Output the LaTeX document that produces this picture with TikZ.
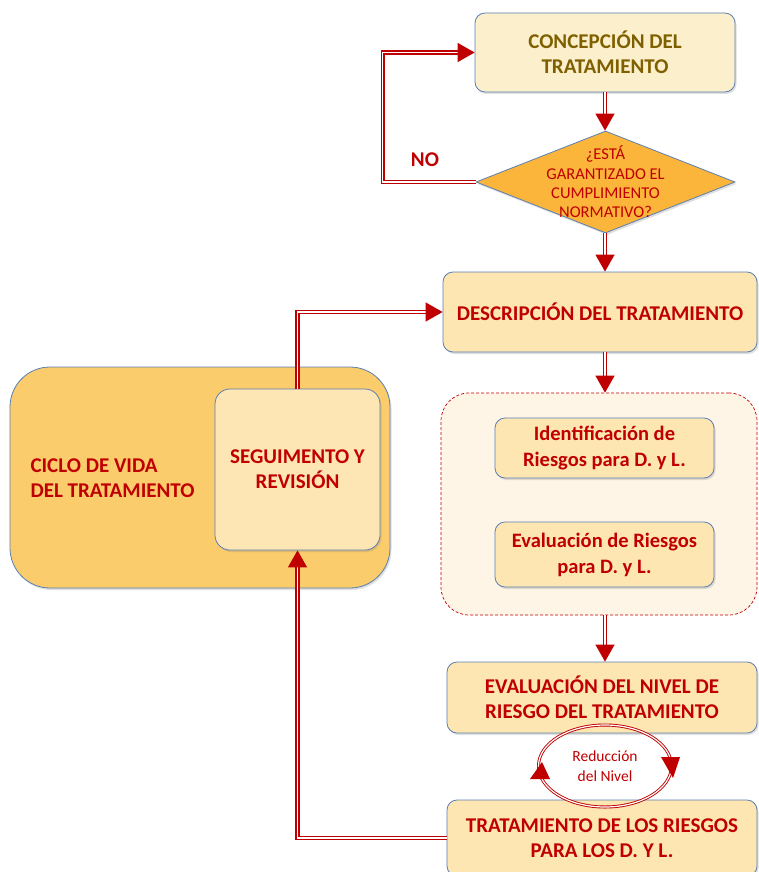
\documentclass[tikz,border=0pt]{standalone}
\usepackage{fontspec}
\setmainfont{Carlito}
\usepackage{tikz}
\usetikzlibrary{arrows.meta}
\usetikzlibrary{shapes.geometric}
\usetikzlibrary{shadows}

\definecolor{rojo}{HTML}{C00000}
\definecolor{oliva}{HTML}{7F6000}
\definecolor{borde}{HTML}{5B7FB2}
\definecolor{crema}{HTML}{FCEFCB}
\definecolor{beige}{HTML}{FDE6B2}
\definecolor{naranja}{HTML}{FBB53B}
\definecolor{ciclo}{HTML}{FBCC6C}
\definecolor{claro}{HTML}{FEE6B4}
\definecolor{zona}{HTML}{FEF5E6}

\begin{document}
\begin{tikzpicture}[x=1pt,y=1pt]
  \tikzset{caja/.style = {draw=borde, line width=0.8pt, rounded corners=10pt, fill=beige, text=rojo, align=center,
      font=\bfseries\fontsize{21}{25}\selectfont,
      drop shadow={opacity=0.25, shadow xshift=1.5pt, shadow yshift=-2pt}}}
  \tikzset{flecha/.style = {draw=rojo, line width=1.3pt, double=white, double distance=1.5pt,
      -{Triangle[length=17pt,width=19pt]}}}
  \tikzset{bucle/.style = {draw=rojo, line width=0.9pt, double=white, double distance=1.2pt}}

  \useasboundingbox (0,0) rectangle (758,-872);

  \node[caja, fill=ciclo, rounded corners=40pt, minimum width=380pt, minimum height=221pt] (vida) at (200,-477.5) {};
  \node[text=rojo, font=\bfseries\fontsize{21}{25}\selectfont, align=left, anchor=west] (vidaTxt) at (27,-478) {CICLO DE VIDA\\DEL TRATAMIENTO};
  \node[caja, fill=claro, rounded corners=15pt, minimum width=165pt, minimum height=161pt] (seg) at (297.5,-469.5) {SEGUIMENTO Y\\REVISIÓN};

  \node[caja, fill=crema, text=oliva, minimum width=260pt, minimum height=79pt] (conc) at (605,-52.5) {CONCEPCIÓN DEL\\TRATAMIENTO};
  \node[diamond, draw=borde, line width=0.8pt, fill=naranja, minimum width=259pt, minimum height=102pt, inner sep=0pt,
      drop shadow={opacity=0.25, shadow xshift=1.5pt, shadow yshift=-2pt}] (diam) at (605.5,-182) {};
  \node[text=rojo, font=\fontsize{16.5}{19.3}\selectfont, align=center] (diamTxt) at (605.5,-182) {¿ESTÁ\\GARANTIZADO EL\\CUMPLIMIENTO\\NORMATIVO?};
  \node[text=rojo, font=\bfseries\fontsize{21}{25}\selectfont] (no) at (425,-160) {NO};

  \node[caja, minimum width=314pt, minimum height=80pt] (desc) at (600,-312) {DESCRIPCIÓN DEL TRATAMIENTO};

  \node[draw=rojo, dashed, dash pattern=on 3pt off 2pt, line width=0.7pt, fill=zona, rounded corners=28pt,
      minimum width=316pt, minimum height=222pt] (zona) at (599,-504) {};
  \node[caja, font=\bfseries\fontsize{20.5}{26}\selectfont, minimum width=219pt, minimum height=60pt] (ident) at (604.5,-448) {Identificación de\\Riesgos para D. y L.};
  \node[caja, font=\bfseries\fontsize{20.5}{26}\selectfont, minimum width=219pt, minimum height=65pt] (evalR) at (604.5,-554.5) {Evaluación de Riesgos\\para D. y L.};

  \node[caja, minimum width=310pt, minimum height=71pt] (evalN) at (602,-697.5) {EVALUACIÓN DEL NIVEL DE\\RIESGO DEL TRATAMIENTO};
  \node[caja, minimum width=310pt, minimum height=76pt] (trat) at (602,-838) {TRATAMIENTO DE LOS RIESGOS\\PARA LOS D. Y L.};

  \node[text=rojo, font=\fontsize{15.5}{20.5}\selectfont, align=center] (reduc) at (605,-766) {Reducción\\del Nivel};
  \draw[bucle] (reduc) ellipse [x radius=66.5pt, y radius=41pt];
  \fill[rojo] (661,-757) -- (680,-757) -- (673,-778) -- cycle;
  \fill[rojo] (530,-779) -- (550,-779) -- (542,-762) -- cycle;

  \foreach \from/\to in {conc/diam, diam/desc, desc/zona, zona/evalN}
    \draw[flecha] (\from.south -| conc) -- (\to.north -| conc);
  \draw[flecha] (diam.west) -- ++(-93,0) |- (conc.west);
  \draw[flecha] (seg.north) |- (desc.west);
  \draw[flecha] (trat.west) -| (seg.south);
\end{tikzpicture}
\end{document}
